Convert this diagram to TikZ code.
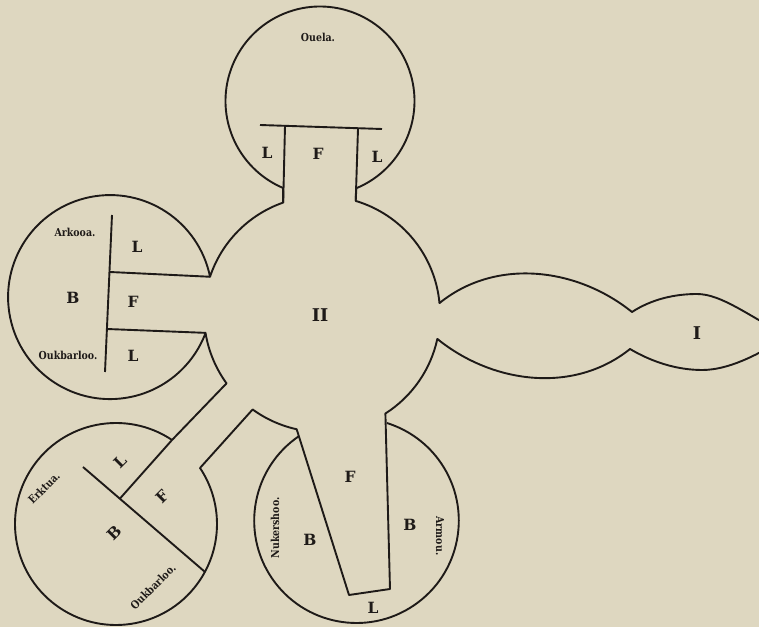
\documentclass[tikz,border=0pt]{standalone}
\usepackage{fontspec}
\setmainfont{DejaVu Serif}
\newfontfamily\placefont[FakeStretch=0.86]{DejaVu Serif}
\usetikzlibrary{calc}
\definecolor{paper}{RGB}{222,215,192}
\definecolor{ink}{RGB}{30,26,24}
\tikzset{
  wall/.style={draw=ink,line width=1.35pt,line join=round},
  part/.style={font=\fontsize{11}{13}\selectfont\bfseries,text=ink,inner sep=0pt},
  place/.style={font=\placefont\fontsize{7.8}{9}\selectfont\bfseries,text=ink,inner sep=0pt},
  numeral/.style={font=\fontsize{12.5}{14}\selectfont\bfseries,text=ink,inner sep=0pt},
}

\begin{document}
\begin{tikzpicture}[x=0.025cm,y=0.025cm]
  \fill[paper] (0,0) rectangle (759,627);
  \useasboundingbox (0,0) rectangle (759,627);
  \clip (0,0) rectangle (759,627);
  % centres of the chambers
  \coordinate (mid) at (322,313);
  \coordinate (top) at (320,526);
  \coordinate (left) at (110,330);
  \coordinate (low) at (116,103);
  \coordinate (bot) at (356.5,106.3);
  % openings of the middle chamber
  \coordinate (a1) at ($(mid)+(109.2:118)$);
  \coordinate (a2) at ($(mid)+(73.4:118)$);
  \coordinate (b1) at ($(mid)+(161.6:118)$);
  \coordinate (b2) at ($(mid)+(189.2:118)$);
  \coordinate (c1) at ($(mid)+(216:118)$);
  \coordinate (c2) at ($(mid)+(234:118)$);
  \coordinate (d1) at ($(mid)+(257.6:118)$);
  \coordinate (d2) at ($(mid)+(302.5:118)$);
  \coordinate (e1) at ($(mid)+(347.8:118)$);
  \coordinate (e2) at ($(mid)+(5.3:118)$);
  \coordinate (ts) at ($(top)+(292.6:94.5)$);
  \coordinate (q1) at ($(low)+(56.3:101)$);
  \coordinate (q2) at ($(low)+(33.7:101)$);
  \coordinate (nl) at ($(bot)+(124.2:102.3)$);
  \coordinate (n3) at (349,32);
  \coordinate (n4) at (390,38);
  % the two bulbs on the right
  \coordinate (p1) at (632,315);
  \coordinate (p2) at (630,278);
  \coordinate (hi) at (697,333);
  \coordinate (lo) at (702,257);
  \coordinate (tip) at (788,291);

  % outline
  \draw[wall] (a1) arc[start angle=109.2,end angle=161.6,radius=118]
    arc[start angle=11.5,end angle=339.4,radius=102] -- (b2)
    arc[start angle=189.2,end angle=216,radius=118] -- (q1)
    arc[start angle=56.3,end angle=393.7,radius=101] -- (c2)
    arc[start angle=234,end angle=257.6,radius=118] -- (n3) -- (n4) -- (d2)
    arc[start angle=302.5,end angle=347.8,radius=118]
    .. controls (493,243) and (574,233) .. (p2)
    .. controls (652,265) and (677,257) .. (lo)
    .. controls (727,257) and (755,270) .. (tip)
    .. controls (750,310) and (722,333) .. (hi)
    .. controls (675,333) and (652,328) .. (p1)
    .. controls (576,360) and (495,369) .. (e2)
    arc[start angle=5.3,end angle=73.4,radius=118] -- (ts)
    arc[start angle=292.6,end angle=606.96,radius=94.5] -- cycle;
  \draw[wall] (nl) arc[start angle=124.2,end angle=432.7,radius=102.3];

  % partitions
  \draw[wall] (260,502) -- (382,498);
  \draw[wall] (285,501) -- (a1);
  \draw[wall] (358,498) -- (a2);
  \draw[wall] (112,412) -- (105,255);
  \draw[wall] (110,355) -- (b1);
  \draw[wall] (107,298) -- (b2);
  \draw[wall] (q1) -- (120,128.5);
  \draw[wall] (83,160) -- ($(low)+(-28.3:101)$);

  % labels
  \node[numeral] (two) at (320,312) {II};
  \node[numeral] (one) at (697,294) {I};
  \node[place] (ouela) at (318,590) {Ouela.};
  \node[part] (tl) at (267,474) {L};
  \node[part] (tf) at (318,473) {F};
  \node[part] (tr) at (377,470) {L};
  \node[place] (arkooa) at (75,395) {Arkooa.};
  \node[place] (oukl) at (68,272) {Oukbarloo.};
  \node[part] (ll) at (137,380) {L};
  \node[part] (lb) at (73,329) {B};
  \node[part] (lf) at (133,325) {F};
  \node[part] (ll2) at (133,271) {L};
  \node[place,rotate=45] (erktua) at (44,139) {Erktua.};
  \node[place,rotate=45] (oukb) at (153,40) {Oukbarloo.};
  \node[part,rotate=45] (el) at (120,165) {L};
  \node[part,rotate=45] (ef) at (162,130) {F};
  \node[part,rotate=45] (eb) at (114,94) {B};
  \node[place,rotate=90] (nuker) at (275,99) {Nukershoo.};
  \node[place,rotate=-90] (armou) at (440,91) {Armou.};
  \node[part] (bf) at (350,150) {F};
  \node[part] (bb) at (310,87) {B};
  \node[part] (bb2) at (410,102) {B};
  \node[part] (bl) at (373,19) {L};
\end{tikzpicture}
\end{document}
